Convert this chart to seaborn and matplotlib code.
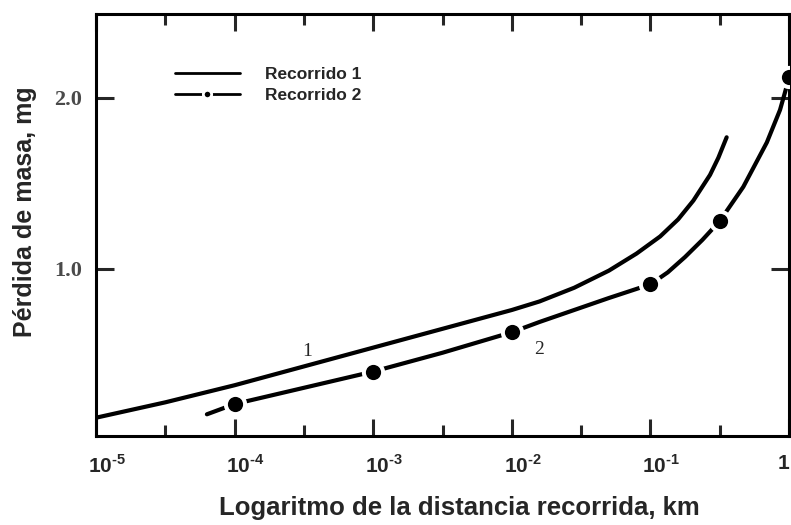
import matplotlib
matplotlib.use("Agg")
import matplotlib.pyplot as plt
import matplotlib.transforms as mtransforms
from matplotlib.lines import Line2D
import pandas as pd
import seaborn as sns

# datos: exponente de la distancia (log10 km) y perdida (mg)
log_dist_1 = [-5.0, -4.5, -4.0, -3.5, -3.0, -2.5, -2.0, -1.8, -1.55, -1.3, -1.1, -0.93,
              -0.8, -0.69, -0.57, -0.51, -0.45]
perdida_1 = [0.13, 0.22, 0.32, 0.43, 0.54, 0.65, 0.76, 0.81, 0.89, 0.99, 1.09, 1.19,
             1.29, 1.40, 1.55, 1.65, 1.77]

log_dist_2 = [-4.2, -4.0, -3.5, -3.0, -2.5, -2.0, -1.8, -1.55, -1.3, -1.15, -1.0, -0.875,
              -0.75, -0.625, -0.5, -0.33, -0.16, -0.065, -0.03, 0.0]
perdida_2 = [0.15, 0.21, 0.305, 0.40, 0.51, 0.63, 0.69, 0.76, 0.83, 0.87, 0.91, 0.98,
             1.07, 1.17, 1.28, 1.48, 1.74, 1.93, 2.03, 2.12]

# puntos marcados del recorrido 2
log_dist_pts = [-4.0, -3.0, -2.0, -1.0, -0.5, 0.0]
perdida_pts = [0.21, 0.40, 0.63, 0.91, 1.28, 2.12]

x_ticks = [1e-5, 1e-4, 1e-3, 1e-2, 1e-1, 1.0]
x_labels = ["$10^{\\text{-5}}$", "$10^{\\text{-4}}$", "$10^{\\text{-3}}$",
            "$10^{\\text{-2}}$", "$10^{\\text{-1}}$", "1"]
y_ticks = [1.0, 2.0]
y_labels = ["1.0", "2.0"]

sns.set_style("white")
plt.rcParams["font.family"] = ["Liberation Sans", "DejaVu Sans"]
plt.rcParams["mathtext.fontset"] = "custom"
plt.rcParams["mathtext.rm"] = "Liberation Sans:bold"
plt.rcParams["mathtext.bf"] = "Liberation Sans:bold"

df1 = pd.DataFrame({"x": [10 ** v for v in log_dist_1], "y": perdida_1})
df2 = pd.DataFrame({"x": [10 ** v for v in log_dist_2], "y": perdida_2})
dfp = pd.DataFrame({"x": [10 ** v for v in log_dist_pts], "y": perdida_pts})

fig = plt.figure(figsize=(7.91, 5.25), dpi=100)
ax = fig.add_axes([0.1214, 0.1695, 0.8761, 0.8035])

sns.lineplot(data=df1, x="x", y="y", ax=ax, color="black", lw=3, sort=False,
             solid_capstyle="round", solid_joinstyle="round")
sns.lineplot(data=df2, x="x", y="y", ax=ax, color="black", lw=3, sort=False,
             solid_capstyle="round", solid_joinstyle="round")
# hueco blanco alrededor de cada punto
sns.scatterplot(data=dfp, x="x", y="y", ax=ax, color="white", s=280, linewidth=0, zorder=4)
sns.scatterplot(data=dfp, x="x", y="y", ax=ax, color="black", s=120, linewidth=0, zorder=5)

ax.set_xscale("log")
ax.set_xlim(1e-5, 1.0)
ax.set_ylim(0.023, 2.49)

ax.set_xticks(x_ticks)
ax.set_xticklabels(x_labels, fontsize=15)
ax.set_xticks([10 ** (k + 0.5) for k in range(-5, 0)], minor=True)
ax.set_yticks(y_ticks)
ax.set_yticklabels(y_labels, family="Liberation Serif", fontsize=16,
                   fontweight="bold", color="#4a4a4a")

ax.tick_params(axis="x", which="major", direction="in", length=12, width=2.2,
               top=True, bottom=True, pad=13)
ax.tick_params(axis="x", which="minor", direction="in", length=8, width=2.2,
               top=True, bottom=True)
ax.tick_params(axis="y", which="major", direction="in", length=13, width=2.2,
               left=True, right=True, pad=10)
ax.tick_params(axis="y", which="minor", left=False, right=False)

# las etiquetas del eje x van algo corridas a la derecha
shift = mtransforms.ScaledTranslation(11 / 100, 0, fig.dpi_scale_trans)
xlabs = ax.get_xticklabels()
for lab in xlabs[:-1]:
    lab.set_transform(lab.get_transform() + shift)
xlabs[-1].set_ha("right")
xlabs[-1].set_fontweight("bold")

for s in ax.spines.values():
    s.set_linewidth(2.2)
    s.set_color("black")

ax.set_xlabel("Logaritmo de la distancia recorrida, km", fontsize=18.5,
              fontweight="bold", va="center")
ax.set_ylabel("Pérdida de masa, mg", fontsize=18, fontweight="bold", va="center")
ax.xaxis.set_label_coords(0.524, -0.171)
ax.yaxis.set_label_coords(-0.102, 0.531)

ax.text(10 ** -3.48, 0.52, "1", family="Liberation Serif", fontsize=14,
        ha="center", va="center")
ax.text(10 ** -1.8, 0.53, "2", family="Liberation Serif", fontsize=14,
        ha="center", va="center")

handles = [
    Line2D([], [], color="black", lw=2),
    Line2D([], [], color="black", lw=2, marker="o", markersize=6,
           markerfacecolor="black", markeredgecolor="white", markeredgewidth=2),
]
ax.legend(handles, ["Recorrido 1", "Recorrido 2"], loc="upper left",
          bbox_to_anchor=(0.114, 0.876), frameon=False, handlelength=3.74,
          handletextpad=1.44, labelspacing=0.38, numpoints=1, borderpad=0,
          borderaxespad=0,
          prop={"family": "Liberation Sans", "weight": "bold", "size": 12.5})

fig.savefig("out.png", dpi=100)
